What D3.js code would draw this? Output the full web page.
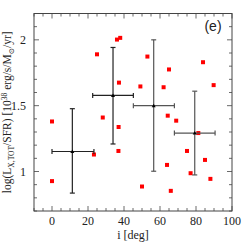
<!DOCTYPE html>
<html>
<head>
<meta charset="utf-8">
<style>
  body { margin: 0; background: #fff; }
  text { font-family: "Liberation Serif", "DejaVu Serif", serif; fill: #222; }
</style>
</head>
<body>
<script src="https://d3js.org/d3.v7.min.js"></script>
<script>
// individual galaxies: inclination and log(Lx/SFR)
var ptI = [0, 0, 25, 23.3, 28.2, 36.1, 37.9, 37.2, 37, 36.9, 53, 49.1, 50, 62, 65, 64.3, 69, 63.9, 66, 75, 81.3, 77, 83.9, 85, 89.8, 88];
var ptV = [1.38, 0.927, 1.89, 1.129, 1.41, 2.002, 2.015, 1.675, 1.338, 1.156, 1.873, 1.646, 0.886, 1.64, 1.775, 1.424, 1.386, 1.05, 0.853, 1.156, 1.292, 0.987, 1.83, 1.088, 1.656, 0.944];

// binned means with error bars
var binI = [11.3, 33.9, 56.5, 79.3];
var binV = [1.152, 1.578, 1.5, 1.292];
var binILo = [0, 22.6, 45.2, 68];
var binIHi = [23.3, 45.2, 68, 90.6];
var binVLo = [0.836, 1.209, 1.002, 0.974];
var binVHi = [1.477, 1.942, 2.0, 1.61];
var binColor = ["#222", "#222", "#555", "#555"];

var xTicks = [0, 20, 40, 60, 80, 100];
var yTicks = [1, 1.5, 2];

var W = 245, H = 245;
var pLeft = 34, pRight = 232, pTop = 13.5, pBottom = 211;

var svg = d3.select("body").append("svg")
    .attr("width", W).attr("height", H);

var x = d3.scaleLinear().domain([-10, 100]).range([pLeft, pRight]);
var y = d3.scaleLinear().domain([0.7, 2.2]).range([pBottom, pTop]);

// ticks on all four sides, pointing in
var minorX = d3.range(-10, 100.1, 5);
var minorY = d3.range(7, 22.1, 1).map(function(v) { return v / 10; });
var tk = svg.append("g").attr("stroke", "#444").attr("stroke-width", 0.8);
minorX.forEach(function(v) {
    var len = (Math.abs(v % 20) < 0.01) ? 5 : 3;
    tk.append("line").attr("x1", x(v)).attr("x2", x(v)).attr("y1", pBottom).attr("y2", pBottom - len);
    tk.append("line").attr("x1", x(v)).attr("x2", x(v)).attr("y1", pTop).attr("y2", pTop + len);
});
minorY.forEach(function(r) {
    var len = (Math.abs(r * 2 - Math.round(r * 2)) < 0.01) ? 5 : 3;
    tk.append("line").attr("y1", y(r)).attr("y2", y(r)).attr("x1", pLeft).attr("x2", pLeft + len);
    tk.append("line").attr("y1", y(r)).attr("y2", y(r)).attr("x1", pRight).attr("x2", pRight - len);
});

svg.append("rect")
    .attr("x", pLeft).attr("y", pTop)
    .attr("width", pRight - pLeft).attr("height", pBottom - pTop)
    .attr("fill", "none").attr("stroke", "#444").attr("stroke-width", 1);

// tick labels
svg.selectAll(".xl").data(xTicks).enter().append("text")
    .attr("x", function(d) { return x(d); })
    .attr("y", 225)
    .attr("text-anchor", "middle")
    .attr("font-size", 12)
    .text(function(d) { return d; });

svg.selectAll(".yl").data(yTicks).enter().append("text")
    .attr("x", 26)
    .attr("y", function(d) { return y(d) + 4; })
    .attr("text-anchor", "end")
    .attr("font-size", 12)
    .text(function(d) { return d; });

svg.append("text")
    .attr("x", x(45)).attr("y", 239)
    .attr("text-anchor", "middle")
    .attr("font-size", 12)
    .text("i [deg]");

var yl = svg.append("text")
    .attr("transform", "translate(11," + ((pTop + pBottom) / 2) + ") rotate(-90)")
    .attr("text-anchor", "middle")
    .attr("font-size", 11.5);
yl.append("tspan").text("log(L");
yl.append("tspan").attr("font-size", 7.5).attr("dy", 2.5).text("X,TOT");
yl.append("tspan").attr("dy", -2.5).text("/SFR) [10");
yl.append("tspan").attr("font-size", 7.5).attr("dy", -4).text("38");
yl.append("tspan").attr("dy", 4).text(" erg/s/M");
yl.append("tspan").attr("font-size", 7.5).attr("dy", 2.5).text("\u2299");
yl.append("tspan").attr("dy", -2.5).text("/yr]");

svg.append("text")
    .attr("x", 213).attr("y", 31)
    .attr("text-anchor", "middle")
    .style("font-family", "'Liberation Sans', sans-serif")
    .attr("font-size", 14)
    .text("(e)");

// scatter points
svg.selectAll(".pt").data(ptI).enter().append("rect")
    .attr("x", function(d) { return x(d) - 2; })
    .attr("y", function(d, i) { return y(ptV[i]) - 2; })
    .attr("width", 4).attr("height", 4)
    .attr("fill", "#ff0000");

// binned error bars
var eb = svg.selectAll(".eb").data(binI).enter().append("g")
    .attr("stroke", function(d, i) { return binColor[i]; })
    .attr("stroke-width", 1.2);
eb.append("line")
    .attr("x1", function(d, i) { return x(binILo[i]); })
    .attr("x2", function(d, i) { return x(binIHi[i]); })
    .attr("y1", function(d, i) { return y(binV[i]); })
    .attr("y2", function(d, i) { return y(binV[i]); });
eb.append("line")
    .attr("x1", function(d) { return x(d); })
    .attr("x2", function(d) { return x(d); })
    .attr("y1", function(d, i) { return y(binVLo[i]); })
    .attr("y2", function(d, i) { return y(binVHi[i]); });
[binILo, binIHi].forEach(function(arr) {
    eb.append("line")
        .attr("x1", function(d, i) { return x(arr[i]); })
        .attr("x2", function(d, i) { return x(arr[i]); })
        .attr("y1", function(d, i) { return y(binV[i]) - 2.5; })
        .attr("y2", function(d, i) { return y(binV[i]) + 2.5; });
});
[binVLo, binVHi].forEach(function(arr) {
    eb.append("line")
        .attr("x1", function(d) { return x(d) - 2.5; })
        .attr("x2", function(d) { return x(d) + 2.5; })
        .attr("y1", function(d, i) { return y(arr[i]); })
        .attr("y2", function(d, i) { return y(arr[i]); });
});
eb.append("path")
    .attr("d", function(d, i) {
        var cx = x(d), cy = y(binV[i]);
        return "M" + (cx - 2) + "," + (cy + 1.5) + "L" + (cx + 2) + "," + (cy + 1.5) + "L" + cx + "," + (cy - 2) + "Z";
    })
    .attr("fill", "#000").attr("stroke", "none");
</script>
</body>
</html>
